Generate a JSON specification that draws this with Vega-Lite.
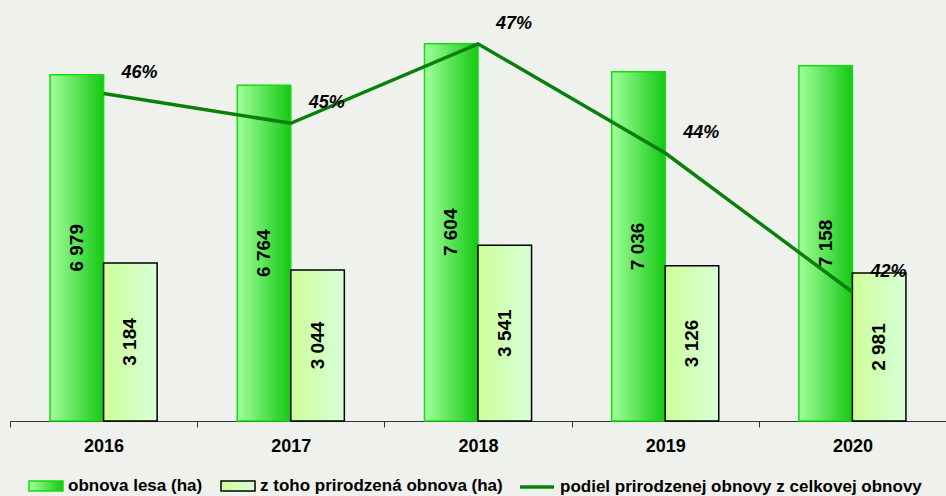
{
  "$schema": "https://vega.github.io/schema/vega-lite/v6.json",
  "autosize": {"type": "none"},
  "width": 936,
  "height": 397,
  "padding": {"left": 10, "top": 24, "right": 0, "bottom": 75},
  "background": "#eff1ec",
  "config": {
    "view": {"stroke": null},
    "locale": {"number": {"decimal": ",", "thousands": " ", "grouping": [3], "currency": ["", " €"]}},
    "font": "Liberation Sans",
    "legend": {
      "orient": "none", "title": null, "labelFont": "Liberation Sans", "labelFontWeight": "bold", "labelFontSize": 17,
      "labelColor": "#000000", "labelLimit": 600, "labelOffset": 4, "symbolSize": 1156, "padding": 0
    }
  },
  "datasets": {
    "bars": [
      {"year": "2016", "series": "obnova lesa (ha)", "value": 6979},
      {"year": "2016", "series": "z toho prirodzená obnova (ha)", "value": 3184},
      {"year": "2017", "series": "obnova lesa (ha)", "value": 6764},
      {"year": "2017", "series": "z toho prirodzená obnova (ha)", "value": 3044},
      {"year": "2018", "series": "obnova lesa (ha)", "value": 7604},
      {"year": "2018", "series": "z toho prirodzená obnova (ha)", "value": 3541},
      {"year": "2019", "series": "obnova lesa (ha)", "value": 7036},
      {"year": "2019", "series": "z toho prirodzená obnova (ha)", "value": 3126},
      {"year": "2020", "series": "obnova lesa (ha)", "value": 7158},
      {"year": "2020", "series": "z toho prirodzená obnova (ha)", "value": 2981}
    ],
    "share": [
      {"year": "2016", "series": "podiel prirodzenej obnovy z celkovej obnovy", "share": 0.456},
      {"year": "2017", "series": "podiel prirodzenej obnovy z celkovej obnovy", "share": 0.450},
      {"year": "2018", "series": "podiel prirodzenej obnovy z celkovej obnovy", "share": 0.466},
      {"year": "2019", "series": "podiel prirodzenej obnovy z celkovej obnovy", "share": 0.444},
      {"year": "2020", "series": "podiel prirodzenej obnovy z celkovej obnovy", "share": 0.416}
    ]
  },
  "resolve": {"scale": {"y": "independent"}},
  "layer": [
    {
      "data": {"name": "bars"},
      "transform": [{"filter": "datum.series === 'obnova lesa (ha)'"}],
      "mark": {
        "type": "bar", "strokeWidth": 1.5, "stroke": "#11dd11",
        "fill": {"gradient": "linear", "x1": 0, "y1": 0, "x2": 1, "y2": 0, "stops": [{"offset": 0, "color": "#a2ff9c"}, {"offset": 1, "color": "#14c814"}]}
      },
      "encoding": {
        "x": {
          "field": "year", "type": "nominal",
          "scale": {"paddingInner": 0, "paddingOuter": 0},
          "axis": {
            "title": null, "labelAngle": 0, "tickBand": "extent",
            "labelFont": "Liberation Sans", "labelFontWeight": "bold", "labelFontSize": 18, "labelColor": "#000000",
            "domainColor": "#333333", "domainWidth": 1, "tickColor": "#333333", "tickWidth": 1, "tickSize": 6,
            "labelPadding": 10
          }
        },
        "xOffset": {"field": "series", "type": "nominal", "scale": {"domain": ["obnova lesa (ha)", "z toho prirodzená obnova (ha)"], "paddingInner": 0, "paddingOuter": 0.748}},
        "y": {"field": "value", "type": "quantitative", "scale": {"domain": [0, 8000]}, "axis": null},
        "opacity": {
          "field": "series", "type": "nominal", "scale": {"domain": ["obnova lesa (ha)"], "range": [1, 1]},
          "legend": {"legendX": 18, "legendY": 444, "symbolType": "M-1,-0.3H1V0.3H-1Z", "symbolStrokeWidth": 1.5}
        }
      }
    },
    {
      "data": {"name": "bars"},
      "transform": [{"filter": "datum.series === 'z toho prirodzená obnova (ha)'"}],
      "mark": {
        "type": "bar", "strokeWidth": 1.5,
        "fill": {"gradient": "linear", "x1": 0, "y1": 0, "x2": 1, "y2": 0, "stops": [{"offset": 0, "color": "#ccff99"}, {"offset": 1, "color": "#d8ffd8"}]}
      },
      "encoding": {
        "x": {"field": "year", "type": "nominal"},
        "xOffset": {"field": "series", "type": "nominal", "scale": {"domain": ["obnova lesa (ha)", "z toho prirodzená obnova (ha)"], "paddingInner": 0, "paddingOuter": 0.748}},
        "y": {"field": "value", "type": "quantitative", "scale": {"domain": [0, 8000]}, "axis": null},
        "stroke": {
          "field": "series", "type": "nominal",
          "scale": {"domain": ["z toho prirodzená obnova (ha)"], "range": ["#000000"]},
          "legend": {"legendX": 210, "legendY": 444, "symbolType": "M-1,-0.3H1V0.3H-1Z", "symbolStrokeWidth": 1.5}
        }
      }
    },
    {
      "data": {"name": "bars"},
      "mark": {"type": "text", "angle": 270, "align": "center", "baseline": "middle", "font": "Liberation Sans", "fontWeight": "bold", "fontSize": 19, "color": "#000000"},
      "encoding": {
        "x": {"field": "year", "type": "nominal"},
        "xOffset": {"field": "series", "type": "nominal", "scale": {"domain": ["obnova lesa (ha)", "z toho prirodzená obnova (ha)"], "paddingInner": 0, "paddingOuter": 0.748}},
        "y": {"field": "value", "type": "quantitative", "scale": {"domain": [0, 16000]}, "axis": null},
        "text": {"field": "value", "type": "quantitative", "format": ",d"}
      }
    },
    {
      "data": {"name": "share"},
      "mark": {"type": "line", "strokeWidth": 3.5, "interpolate": "linear"},
      "encoding": {
        "x": {"field": "year", "type": "nominal"},
        "y": {"field": "share", "type": "quantitative", "scale": {"domain": [0.39, 0.47], "zero": false}, "axis": null},
        "color": {
          "field": "series", "type": "nominal", "scale": {"domain": ["podiel prirodzenej obnovy z celkovej obnovy"], "range": ["#0a800a"]},
          "legend": {"legendX": 508, "legendY": 444, "symbolType": "stroke", "symbolStrokeWidth": 3.5}
        }
      }
    },
    {
      "data": {"name": "share"},
      "mark": {"type": "text", "dx": 36, "dy": -20, "font": "Liberation Sans", "fontWeight": "bold", "fontStyle": "italic", "fontSize": 18, "color": "#000000"},
      "encoding": {
        "x": {"field": "year", "type": "nominal"},
        "y": {"field": "share", "type": "quantitative", "scale": {"domain": [0.39, 0.47], "zero": false}, "axis": null},
        "text": {"field": "share", "type": "quantitative", "format": ".0%"}
      }
    }
  ]
}
